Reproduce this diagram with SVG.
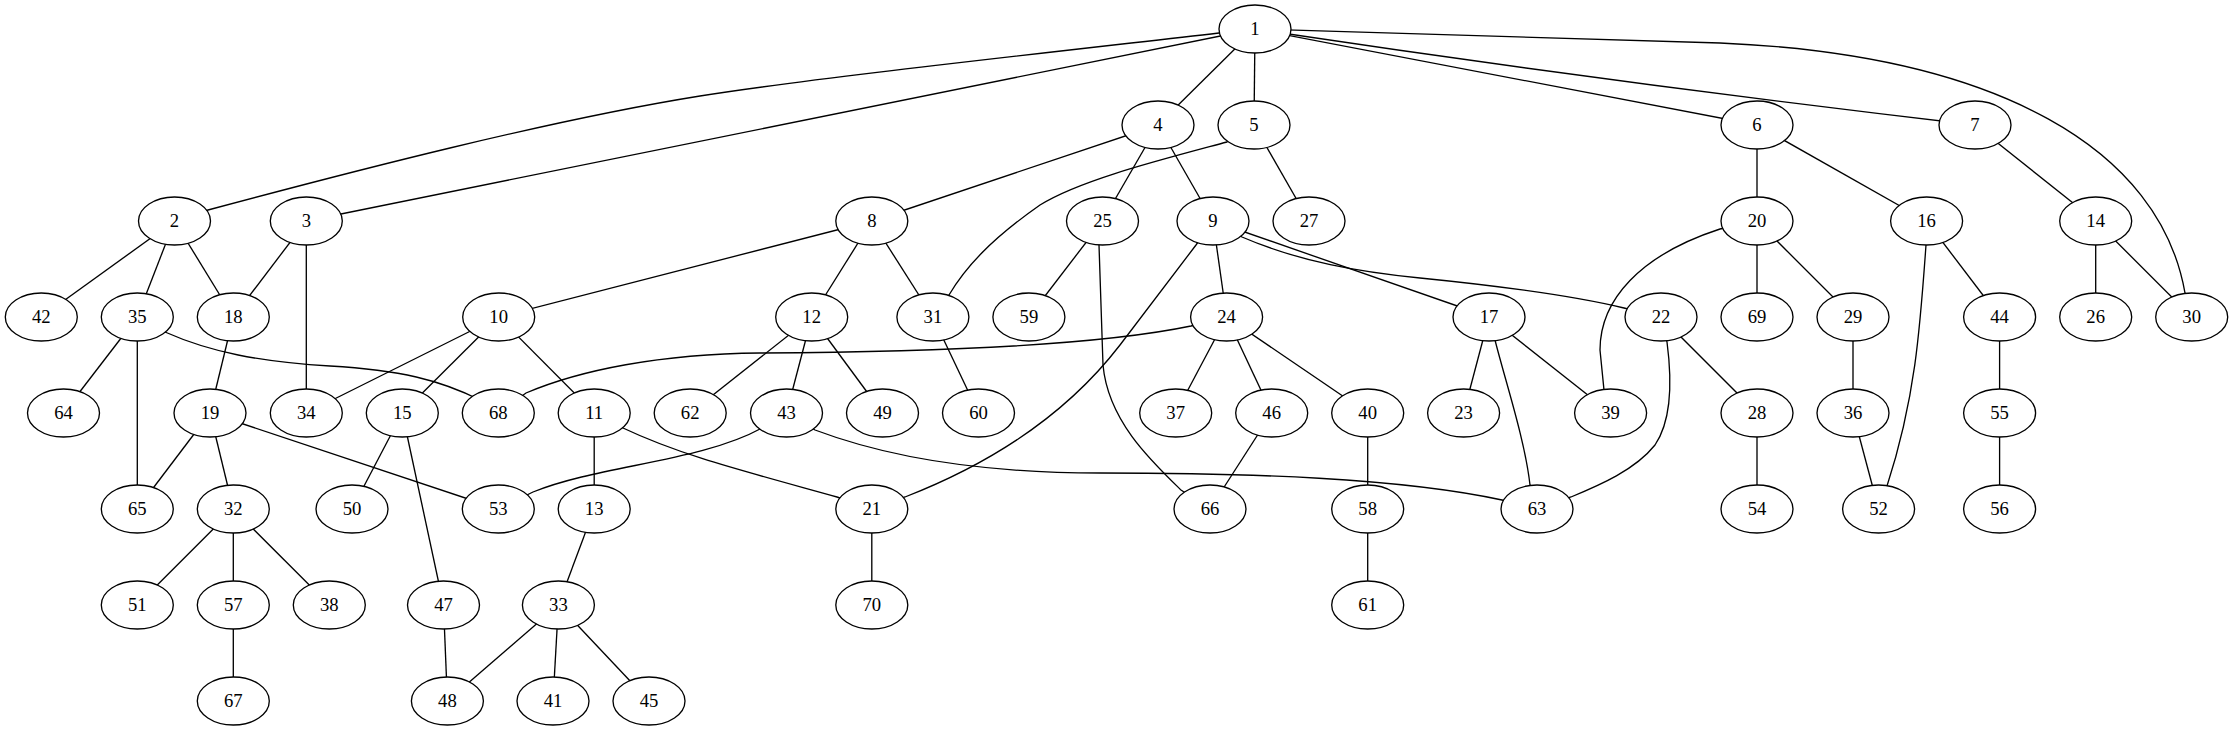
<svg xmlns="http://www.w3.org/2000/svg" width="2233" height="731" viewBox="0 0 2233 731">
<style>
.e{fill:none;stroke:#000;stroke-width:1.33}
.n ellipse{fill:#fff;stroke:#000;stroke-width:1.33}
.n text{font-family:"Liberation Serif","Times New Roman",serif;font-size:18.67px;text-anchor:middle;fill:#000}
</style>
<rect width="2233" height="731" fill="#fff"/>
<g id="edges" class="e">
<path d="M1255,29 L1219,33 C1000,58 800,80 700,96 C550,120 350,172 208,210 L174.5,221"/>
<line x1="1255" y1="29" x2="306.3" y2="221"/>
<line x1="1255" y1="29" x2="1158" y2="125"/>
<line x1="1255" y1="29" x2="1254" y2="125"/>
<line x1="1255" y1="29" x2="1757" y2="125"/>
<path d="M1255,29 Q1614,83 1975,125"/>
<path d="M1255,29 L1720,43 C2000,55 2160,150 2185,293 L2191.7,317"/>
<line x1="174.5" y1="221" x2="41.3" y2="317"/>
<line x1="174.5" y1="221" x2="137.3" y2="317"/>
<line x1="174.5" y1="221" x2="233.3" y2="317"/>
<line x1="306.3" y1="221" x2="233.3" y2="317"/>
<line x1="306.3" y1="221" x2="306.3" y2="413"/>
<line x1="1158" y1="125" x2="871.8" y2="221"/>
<line x1="1158" y1="125" x2="1102.5" y2="221"/>
<line x1="1158" y1="125" x2="1213" y2="221"/>
<path d="M1254,125 L1227,142 C1160,160 1080,180 1040,205 C990,240 965,268 949,295 L932.9,317"/>
<line x1="1254" y1="125" x2="1309" y2="221"/>
<line x1="1757" y1="125" x2="1757" y2="221"/>
<line x1="1757" y1="125" x2="1926.6" y2="221"/>
<line x1="1975" y1="125" x2="2095.7" y2="221"/>
<line x1="871.8" y1="221" x2="498.7" y2="317"/>
<line x1="871.8" y1="221" x2="811.7" y2="317"/>
<line x1="871.8" y1="221" x2="932.9" y2="317"/>
<line x1="1102.5" y1="221" x2="1028.9" y2="317"/>
<path d="M1102.5,221 L1099,245 L1103,365 C1108,420 1150,460 1181,490 L1210,509"/>
<line x1="1213" y1="221" x2="1226.6" y2="317"/>
<path d="M1213,221 L1196,245 L1120,345 C1070,410 1000,460 905,497 L871.8,509"/>
<line x1="1213" y1="221" x2="1489" y2="317"/>
<path d="M1213,221 L1242,237 C1300,262 1360,272 1420,278 C1500,286 1570,295 1624,308 L1661,317"/>
<path d="M1757,221 L1720,229 C1640,255 1600,300 1600,350 L1604,390 L1610.6,413"/>
<line x1="1757" y1="221" x2="1757" y2="317"/>
<line x1="1757" y1="221" x2="1853" y2="317"/>
<path d="M1926.6,221 L1926,245 C1920,330 1915,400 1887,486 L1878.6,509"/>
<line x1="1926.6" y1="221" x2="1999.6" y2="317"/>
<line x1="2095.7" y1="221" x2="2095.7" y2="317"/>
<line x1="2095.7" y1="221" x2="2191.7" y2="317"/>
<line x1="137.3" y1="317" x2="63.5" y2="413"/>
<line x1="137.3" y1="317" x2="137.3" y2="509"/>
<path d="M137.3,317 L165,332 C210,352 260,362 330,366 C400,370 440,380 480,400 L498.3,413"/>
<line x1="233.3" y1="317" x2="210" y2="413"/>
<line x1="498.7" y1="317" x2="306.3" y2="413"/>
<line x1="498.7" y1="317" x2="402.3" y2="413"/>
<line x1="498.7" y1="317" x2="594.2" y2="413"/>
<line x1="811.7" y1="317" x2="690.2" y2="413"/>
<line x1="811.7" y1="317" x2="786.5" y2="413"/>
<line x1="811.7" y1="317" x2="882.5" y2="413"/>
<line x1="932.9" y1="317" x2="978.5" y2="413"/>
<path d="M1226.6,317 L1191,326 C1100,345 950,352 760,353 C660,354 580,370 526,393 L498.3,413"/>
<line x1="1226.6" y1="317" x2="1175.7" y2="413"/>
<line x1="1226.6" y1="317" x2="1271.7" y2="413"/>
<line x1="1226.6" y1="317" x2="1367.7" y2="413"/>
<line x1="1489" y1="317" x2="1463.6" y2="413"/>
<line x1="1489" y1="317" x2="1610.6" y2="413"/>
<path d="M1489,317 L1495,340 C1505,380 1525,440 1530,485 L1537,509"/>
<line x1="1661" y1="317" x2="1757" y2="413"/>
<path d="M1661,317 L1667,342 C1672,380 1672,420 1655,445 C1635,470 1600,485 1571,497 L1537,509"/>
<line x1="1853" y1="317" x2="1853" y2="413"/>
<line x1="1999.6" y1="317" x2="1999.6" y2="413"/>
<line x1="210" y1="413" x2="137.3" y2="509"/>
<line x1="210" y1="413" x2="233.3" y2="509"/>
<line x1="210" y1="413" x2="498.3" y2="509"/>
<line x1="402.3" y1="413" x2="352" y2="509"/>
<line x1="402.3" y1="413" x2="443.5" y2="605"/>
<line x1="594.2" y1="413" x2="594.2" y2="509"/>
<path d="M594.2,413 L623,428 C680,455 740,470 837,497 L871.8,509"/>
<path d="M786.5,413 L762,428 C700,462 600,465 533,492 L498.3,509"/>
<path d="M786.5,413 L815,430 C900,462 1000,473 1100,473 C1250,473 1400,478 1502,500 L1537,509"/>
<line x1="1271.7" y1="413" x2="1210" y2="509"/>
<line x1="1367.7" y1="413" x2="1367.7" y2="509"/>
<line x1="1757" y1="413" x2="1757" y2="509"/>
<line x1="1853" y1="413" x2="1878.6" y2="509"/>
<line x1="1999.6" y1="413" x2="1999.6" y2="509"/>
<line x1="233.3" y1="509" x2="137.3" y2="605"/>
<line x1="233.3" y1="509" x2="233.3" y2="605"/>
<line x1="233.3" y1="509" x2="329.3" y2="605"/>
<line x1="594.2" y1="509" x2="558.4" y2="605"/>
<line x1="871.8" y1="509" x2="871.8" y2="605"/>
<line x1="1367.7" y1="509" x2="1367.7" y2="605"/>
<line x1="233.3" y1="605" x2="233.3" y2="701"/>
<line x1="443.5" y1="605" x2="447.4" y2="701"/>
<line x1="558.4" y1="605" x2="447.4" y2="701"/>
<line x1="558.4" y1="605" x2="553" y2="701"/>
<line x1="558.4" y1="605" x2="649" y2="701"/>
</g>
<g id="node1" class="n"><ellipse cx="1255" cy="29" rx="36" ry="24"/><text x="1255" y="35">1</text></g>
<g id="node4" class="n"><ellipse cx="1158" cy="125" rx="36" ry="24"/><text x="1158" y="131">4</text></g>
<g id="node5" class="n"><ellipse cx="1254" cy="125" rx="36" ry="24"/><text x="1254" y="131">5</text></g>
<g id="node6" class="n"><ellipse cx="1757" cy="125" rx="36" ry="24"/><text x="1757" y="131">6</text></g>
<g id="node7" class="n"><ellipse cx="1975" cy="125" rx="36" ry="24"/><text x="1975" y="131">7</text></g>
<g id="node2" class="n"><ellipse cx="174.5" cy="221" rx="36" ry="24"/><text x="174.5" y="227">2</text></g>
<g id="node3" class="n"><ellipse cx="306.3" cy="221" rx="36" ry="24"/><text x="306.3" y="227">3</text></g>
<g id="node8" class="n"><ellipse cx="871.8" cy="221" rx="36" ry="24"/><text x="871.8" y="227">8</text></g>
<g id="node25" class="n"><ellipse cx="1102.5" cy="221" rx="36" ry="24"/><text x="1102.5" y="227">25</text></g>
<g id="node9" class="n"><ellipse cx="1213" cy="221" rx="36" ry="24"/><text x="1213" y="227">9</text></g>
<g id="node27" class="n"><ellipse cx="1309" cy="221" rx="36" ry="24"/><text x="1309" y="227">27</text></g>
<g id="node20" class="n"><ellipse cx="1757" cy="221" rx="36" ry="24"/><text x="1757" y="227">20</text></g>
<g id="node16" class="n"><ellipse cx="1926.6" cy="221" rx="36" ry="24"/><text x="1926.6" y="227">16</text></g>
<g id="node14" class="n"><ellipse cx="2095.7" cy="221" rx="36" ry="24"/><text x="2095.7" y="227">14</text></g>
<g id="node42" class="n"><ellipse cx="41.3" cy="317" rx="36" ry="24"/><text x="41.3" y="323">42</text></g>
<g id="node35" class="n"><ellipse cx="137.3" cy="317" rx="36" ry="24"/><text x="137.3" y="323">35</text></g>
<g id="node18" class="n"><ellipse cx="233.3" cy="317" rx="36" ry="24"/><text x="233.3" y="323">18</text></g>
<g id="node10" class="n"><ellipse cx="498.7" cy="317" rx="36" ry="24"/><text x="498.7" y="323">10</text></g>
<g id="node12" class="n"><ellipse cx="811.7" cy="317" rx="36" ry="24"/><text x="811.7" y="323">12</text></g>
<g id="node31" class="n"><ellipse cx="932.9" cy="317" rx="36" ry="24"/><text x="932.9" y="323">31</text></g>
<g id="node59" class="n"><ellipse cx="1028.9" cy="317" rx="36" ry="24"/><text x="1028.9" y="323">59</text></g>
<g id="node24" class="n"><ellipse cx="1226.6" cy="317" rx="36" ry="24"/><text x="1226.6" y="323">24</text></g>
<g id="node17" class="n"><ellipse cx="1489" cy="317" rx="36" ry="24"/><text x="1489" y="323">17</text></g>
<g id="node22" class="n"><ellipse cx="1661" cy="317" rx="36" ry="24"/><text x="1661" y="323">22</text></g>
<g id="node69" class="n"><ellipse cx="1757" cy="317" rx="36" ry="24"/><text x="1757" y="323">69</text></g>
<g id="node29" class="n"><ellipse cx="1853" cy="317" rx="36" ry="24"/><text x="1853" y="323">29</text></g>
<g id="node44" class="n"><ellipse cx="1999.6" cy="317" rx="36" ry="24"/><text x="1999.6" y="323">44</text></g>
<g id="node26" class="n"><ellipse cx="2095.7" cy="317" rx="36" ry="24"/><text x="2095.7" y="323">26</text></g>
<g id="node30" class="n"><ellipse cx="2191.7" cy="317" rx="36" ry="24"/><text x="2191.7" y="323">30</text></g>
<g id="node64" class="n"><ellipse cx="63.5" cy="413" rx="36" ry="24"/><text x="63.5" y="419">64</text></g>
<g id="node19" class="n"><ellipse cx="210" cy="413" rx="36" ry="24"/><text x="210" y="419">19</text></g>
<g id="node34" class="n"><ellipse cx="306.3" cy="413" rx="36" ry="24"/><text x="306.3" y="419">34</text></g>
<g id="node15" class="n"><ellipse cx="402.3" cy="413" rx="36" ry="24"/><text x="402.3" y="419">15</text></g>
<g id="node68" class="n"><ellipse cx="498.3" cy="413" rx="36" ry="24"/><text x="498.3" y="419">68</text></g>
<g id="node11" class="n"><ellipse cx="594.2" cy="413" rx="36" ry="24"/><text x="594.2" y="419">11</text></g>
<g id="node62" class="n"><ellipse cx="690.2" cy="413" rx="36" ry="24"/><text x="690.2" y="419">62</text></g>
<g id="node43" class="n"><ellipse cx="786.5" cy="413" rx="36" ry="24"/><text x="786.5" y="419">43</text></g>
<g id="node49" class="n"><ellipse cx="882.5" cy="413" rx="36" ry="24"/><text x="882.5" y="419">49</text></g>
<g id="node60" class="n"><ellipse cx="978.5" cy="413" rx="36" ry="24"/><text x="978.5" y="419">60</text></g>
<g id="node37" class="n"><ellipse cx="1175.7" cy="413" rx="36" ry="24"/><text x="1175.7" y="419">37</text></g>
<g id="node46" class="n"><ellipse cx="1271.7" cy="413" rx="36" ry="24"/><text x="1271.7" y="419">46</text></g>
<g id="node40" class="n"><ellipse cx="1367.7" cy="413" rx="36" ry="24"/><text x="1367.7" y="419">40</text></g>
<g id="node23" class="n"><ellipse cx="1463.6" cy="413" rx="36" ry="24"/><text x="1463.6" y="419">23</text></g>
<g id="node39" class="n"><ellipse cx="1610.6" cy="413" rx="36" ry="24"/><text x="1610.6" y="419">39</text></g>
<g id="node28" class="n"><ellipse cx="1757" cy="413" rx="36" ry="24"/><text x="1757" y="419">28</text></g>
<g id="node36" class="n"><ellipse cx="1853" cy="413" rx="36" ry="24"/><text x="1853" y="419">36</text></g>
<g id="node55" class="n"><ellipse cx="1999.6" cy="413" rx="36" ry="24"/><text x="1999.6" y="419">55</text></g>
<g id="node65" class="n"><ellipse cx="137.3" cy="509" rx="36" ry="24"/><text x="137.3" y="515">65</text></g>
<g id="node32" class="n"><ellipse cx="233.3" cy="509" rx="36" ry="24"/><text x="233.3" y="515">32</text></g>
<g id="node50" class="n"><ellipse cx="352" cy="509" rx="36" ry="24"/><text x="352" y="515">50</text></g>
<g id="node53" class="n"><ellipse cx="498.3" cy="509" rx="36" ry="24"/><text x="498.3" y="515">53</text></g>
<g id="node13" class="n"><ellipse cx="594.2" cy="509" rx="36" ry="24"/><text x="594.2" y="515">13</text></g>
<g id="node21" class="n"><ellipse cx="871.8" cy="509" rx="36" ry="24"/><text x="871.8" y="515">21</text></g>
<g id="node66" class="n"><ellipse cx="1210" cy="509" rx="36" ry="24"/><text x="1210" y="515">66</text></g>
<g id="node58" class="n"><ellipse cx="1367.7" cy="509" rx="36" ry="24"/><text x="1367.7" y="515">58</text></g>
<g id="node63" class="n"><ellipse cx="1537" cy="509" rx="36" ry="24"/><text x="1537" y="515">63</text></g>
<g id="node54" class="n"><ellipse cx="1757" cy="509" rx="36" ry="24"/><text x="1757" y="515">54</text></g>
<g id="node52" class="n"><ellipse cx="1878.6" cy="509" rx="36" ry="24"/><text x="1878.6" y="515">52</text></g>
<g id="node56" class="n"><ellipse cx="1999.6" cy="509" rx="36" ry="24"/><text x="1999.6" y="515">56</text></g>
<g id="node51" class="n"><ellipse cx="137.3" cy="605" rx="36" ry="24"/><text x="137.3" y="611">51</text></g>
<g id="node57" class="n"><ellipse cx="233.3" cy="605" rx="36" ry="24"/><text x="233.3" y="611">57</text></g>
<g id="node38" class="n"><ellipse cx="329.3" cy="605" rx="36" ry="24"/><text x="329.3" y="611">38</text></g>
<g id="node47" class="n"><ellipse cx="443.5" cy="605" rx="36" ry="24"/><text x="443.5" y="611">47</text></g>
<g id="node33" class="n"><ellipse cx="558.4" cy="605" rx="36" ry="24"/><text x="558.4" y="611">33</text></g>
<g id="node70" class="n"><ellipse cx="871.8" cy="605" rx="36" ry="24"/><text x="871.8" y="611">70</text></g>
<g id="node61" class="n"><ellipse cx="1367.7" cy="605" rx="36" ry="24"/><text x="1367.7" y="611">61</text></g>
<g id="node67" class="n"><ellipse cx="233.3" cy="701" rx="36" ry="24"/><text x="233.3" y="707">67</text></g>
<g id="node48" class="n"><ellipse cx="447.4" cy="701" rx="36" ry="24"/><text x="447.4" y="707">48</text></g>
<g id="node41" class="n"><ellipse cx="553" cy="701" rx="36" ry="24"/><text x="553" y="707">41</text></g>
<g id="node45" class="n"><ellipse cx="649" cy="701" rx="36" ry="24"/><text x="649" y="707">45</text></g>
</svg>
